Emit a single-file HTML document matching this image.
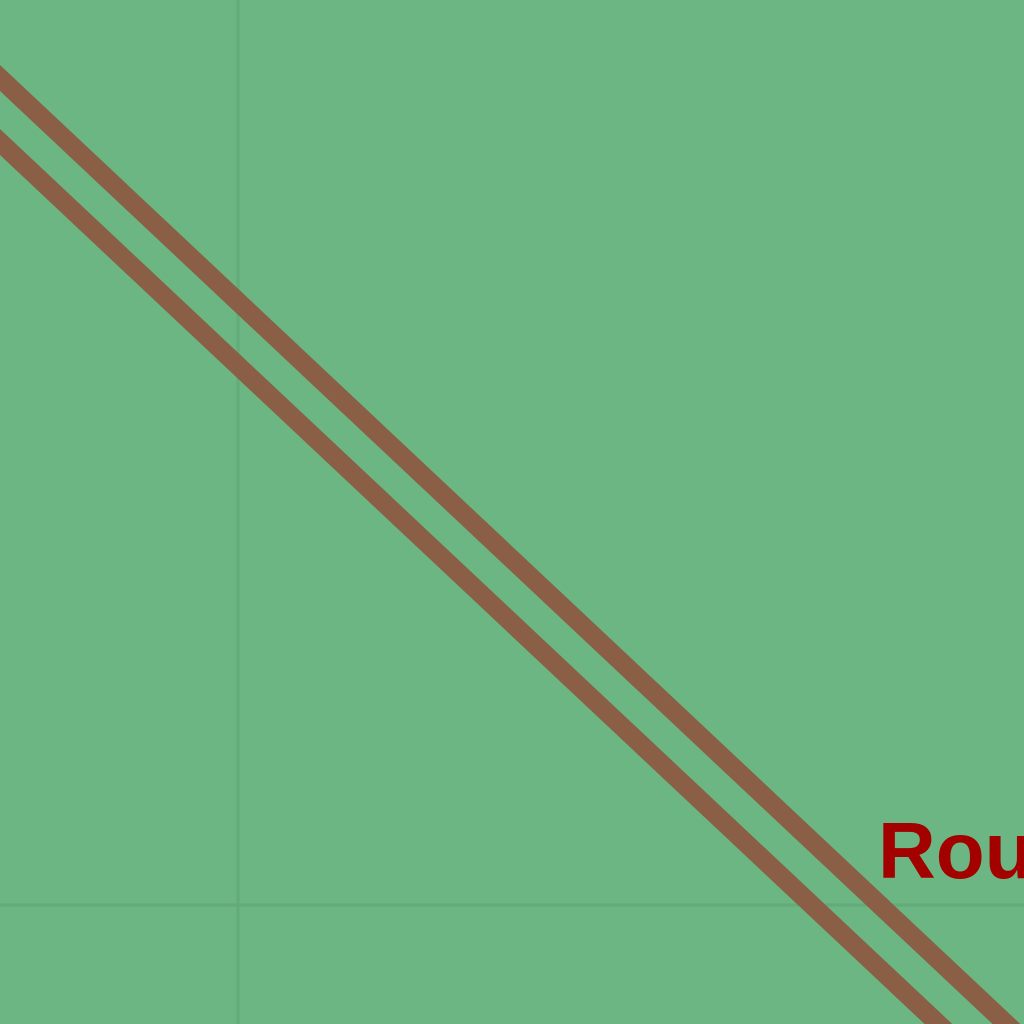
<!DOCTYPE html>
<html>
<head>
<meta charset="utf-8">
<style>
  html, body { margin: 0; padding: 0; width: 1024px; height: 1024px; overflow: hidden; background: #6bb683; }
  svg { display: block; }
</style>
</head>
<body>
<svg width="1024" height="1024" viewBox="0 0 1024 1024">
  <rect x="0" y="0" width="1024" height="1024" fill="#6bb683"/>
  <line x1="238" y1="0" x2="238" y2="1024" stroke="#63ab7a" stroke-width="3"/>
  <line x1="0" y1="905" x2="1024" y2="905" stroke="#63ab7a" stroke-width="3"/>
  <line x1="-10" y1="68.6" x2="1016" y2="1033" stroke="#8a5f45" stroke-width="19"/>
  <line x1="-10" y1="132.6" x2="948" y2="1033" stroke="#8a5f45" stroke-width="19"/>
  <text x="878" y="878" font-family="Liberation Sans, sans-serif" font-weight="bold" font-size="80" fill="#a30000">Route</text>
</svg>
</body>
</html>
